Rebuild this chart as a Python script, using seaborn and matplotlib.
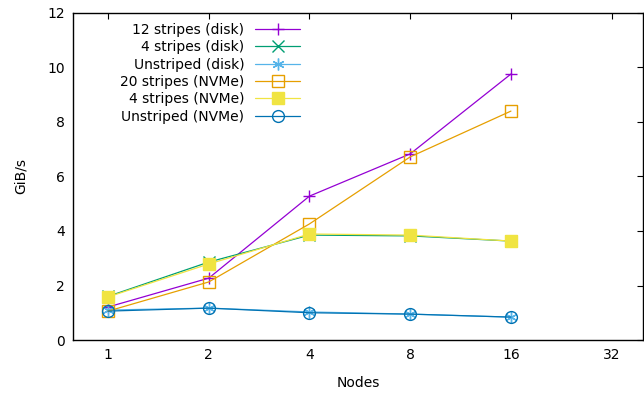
import matplotlib
matplotlib.use("Agg")
import matplotlib.pyplot as plt
import numpy as np
import pandas as pd
import seaborn as sns

# %% data
nodes = [1, 2, 4, 8, 16]
stripes12_disk = [1.21, 2.27, 5.28, 6.83, 9.76]
stripes4_disk = [1.60, 2.86, 3.85, 3.82, 3.63]
unstriped_disk = [1.10, 1.17, 1.03, 0.95, 0.84]
stripes20_nvme = [1.06, 2.13, 4.26, 6.72, 8.40]
stripes4_nvme = [1.58, 2.79, 3.89, 3.85, 3.63]
unstriped_nvme = [1.06, 1.17, 1.00, 0.95, 0.84]

labels = [
    "12 stripes (disk)",
    "4 stripes (disk)",
    "Unstriped (disk)",
    "20 stripes (NVMe)",
    "4 stripes (NVMe)",
    "Unstriped (NVMe)",
]
series = [stripes12_disk, stripes4_disk, unstriped_disk,
          stripes20_nvme, stripes4_nvme, unstriped_nvme]

# gnuplot default palette
colors = ["#9400d3", "#009e73", "#56b4e9", "#e69f00", "#f0e442", "#0072b2"]
markers = ["+", "x", (6, 2, 0), "s", "s", "o"]
fills = ["full", "full", "full", "none", "full", "none"]

sns.set_style("white")
plt.rcParams["font.family"] = ["DejaVu Sans"]
plt.rcParams["font.size"] = 10
plt.rcParams["text.color"] = "black"
plt.rcParams["axes.labelcolor"] = "black"

# %% figure
fig = plt.figure(figsize=(6.44, 3.93), dpi=100)
ax = fig.add_axes([73 / 644, 53 / 393, 570 / 644, 327 / 393])

for lab, vals, col, mk, fs in zip(labels, series, colors, markers, fills):
    df = pd.DataFrame({"nodes": nodes, "gibs": vals})
    sns.lineplot(
        data=df, x="nodes", y="gibs", ax=ax, label=lab, color=col,
        marker=mk, fillstyle=fs, markersize=8.5, markeredgewidth=1.0,
        markeredgecolor=col, linewidth=0.9,
    )

ax.set_xscale("log", base=2)
ax.set_xlim(0.786, 39.7)
ax.set_ylim(0, 12)
ax.set_xticks([1, 2, 4, 8, 16, 32])
ax.set_xticklabels(["1", "2", "4", "8", "16", "32"])
ax.xaxis.set_minor_locator(matplotlib.ticker.NullLocator())
ax.set_yticks(np.arange(0, 13, 2))
ax.tick_params(direction="in", length=4.5, width=0.8, top=True, right=True,
               labelsize=10, colors="black", pad=6)
for sp in ax.spines.values():
    sp.set_color("black")
    sp.set_linewidth(1.0)

ax.set_xlabel("Nodes", fontsize=10, labelpad=10)
ax.set_ylabel("GiB/s", fontsize=10, labelpad=14)

# markerfirst=False right-aligns the rows, like gnuplot's key
ax.legend(
    loc="upper right", bbox_to_anchor=(0.41, 0.991), frameon=False,
    markerfirst=False, handlelength=3.2, handletextpad=0.8,
    labelspacing=0.24, borderpad=0, fontsize=10,
)

fig.savefig("out.png", dpi=100)
